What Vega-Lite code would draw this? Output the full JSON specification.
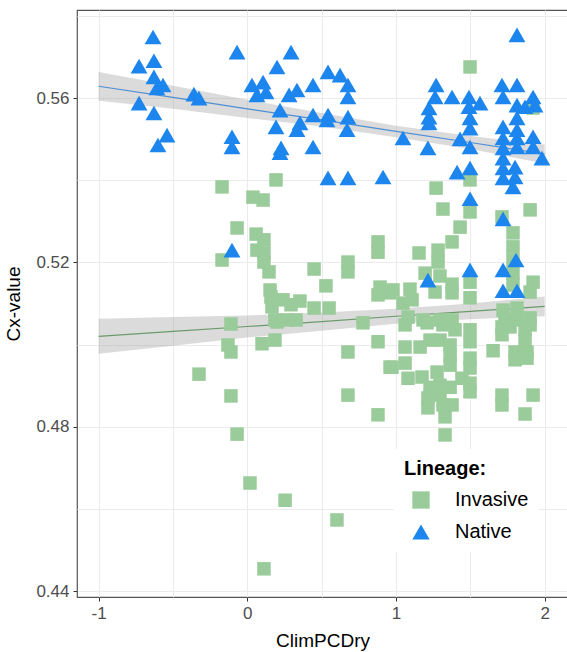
{
  "$schema": "https://vega.github.io/schema/vega-lite/v6.json",
  "autosize": "none",
  "padding": {"left": 77, "top": 10, "right": 0, "bottom": 55},
  "width": 491,
  "height": 587,
  "config": {
    "font": "Liberation Sans",
    "view": {"stroke": "#555555", "strokeWidth": 1.2}
  },
  "datasets": {
    "pts": [
      {"x": -0.170, "y": 0.5384, "Lineage": "Invasive"},
      {"x": 0.193, "y": 0.5401, "Lineage": "Invasive"},
      {"x": 0.038, "y": 0.5359, "Lineage": "Invasive"},
      {"x": 0.106, "y": 0.5352, "Lineage": "Invasive"},
      {"x": -0.069, "y": 0.5284, "Lineage": "Invasive"},
      {"x": 0.059, "y": 0.5269, "Lineage": "Invasive"},
      {"x": 0.112, "y": 0.5255, "Lineage": "Invasive"},
      {"x": 0.065, "y": 0.5230, "Lineage": "Invasive"},
      {"x": 0.112, "y": 0.5223, "Lineage": "Invasive"},
      {"x": -0.170, "y": 0.5206, "Lineage": "Invasive"},
      {"x": 0.112, "y": 0.5201, "Lineage": "Invasive"},
      {"x": 0.146, "y": 0.5177, "Lineage": "Invasive"},
      {"x": 0.153, "y": 0.5133, "Lineage": "Invasive"},
      {"x": 0.159, "y": 0.5116, "Lineage": "Invasive"},
      {"x": 0.166, "y": 0.5092, "Lineage": "Invasive"},
      {"x": 0.240, "y": 0.5109, "Lineage": "Invasive"},
      {"x": 0.186, "y": 0.5060, "Lineage": "Invasive"},
      {"x": 0.267, "y": 0.5060, "Lineage": "Invasive"},
      {"x": 0.328, "y": 0.5060, "Lineage": "Invasive"},
      {"x": 0.354, "y": 0.5106, "Lineage": "Invasive"},
      {"x": 0.449, "y": 0.5184, "Lineage": "Invasive"},
      {"x": 0.449, "y": 0.5089, "Lineage": "Invasive"},
      {"x": 0.550, "y": 0.5089, "Lineage": "Invasive"},
      {"x": 0.529, "y": 0.5143, "Lineage": "Invasive"},
      {"x": 0.677, "y": 0.5201, "Lineage": "Invasive"},
      {"x": 0.677, "y": 0.5177, "Lineage": "Invasive"},
      {"x": 0.879, "y": 0.5250, "Lineage": "Invasive"},
      {"x": 0.879, "y": 0.5225, "Lineage": "Invasive"},
      {"x": 0.893, "y": 0.5140, "Lineage": "Invasive"},
      {"x": 0.960, "y": 0.5126, "Lineage": "Invasive"},
      {"x": 0.879, "y": 0.5121, "Lineage": "Invasive"},
      {"x": 0.778, "y": 0.5053, "Lineage": "Invasive"},
      {"x": -0.110, "y": 0.5050, "Lineage": "Invasive"},
      {"x": -0.130, "y": 0.4999, "Lineage": "Invasive"},
      {"x": -0.110, "y": 0.4982, "Lineage": "Invasive"},
      {"x": 0.099, "y": 0.5002, "Lineage": "Invasive"},
      {"x": 0.186, "y": 0.5011, "Lineage": "Invasive"},
      {"x": 0.200, "y": 0.5055, "Lineage": "Invasive"},
      {"x": -0.325, "y": 0.4928, "Lineage": "Invasive"},
      {"x": -0.110, "y": 0.4875, "Lineage": "Invasive"},
      {"x": -0.069, "y": 0.4782, "Lineage": "Invasive"},
      {"x": 0.018, "y": 0.4663, "Lineage": "Invasive"},
      {"x": 0.254, "y": 0.4621, "Lineage": "Invasive"},
      {"x": 0.112, "y": 0.4454, "Lineage": "Invasive"},
      {"x": 0.603, "y": 0.4573, "Lineage": "Invasive"},
      {"x": 0.677, "y": 0.4982, "Lineage": "Invasive"},
      {"x": 0.879, "y": 0.5007, "Lineage": "Invasive"},
      {"x": 0.960, "y": 0.4945, "Lineage": "Invasive"},
      {"x": 0.677, "y": 0.4877, "Lineage": "Invasive"},
      {"x": 0.879, "y": 0.4829, "Lineage": "Invasive"},
      {"x": 0.294, "y": 0.5097, "Lineage": "Invasive"},
      {"x": 1.498, "y": 0.5676, "Lineage": "Invasive"},
      {"x": 1.922, "y": 0.5576, "Lineage": "Invasive"},
      {"x": 1.270, "y": 0.5381, "Lineage": "Invasive"},
      {"x": 1.498, "y": 0.5401, "Lineage": "Invasive"},
      {"x": 1.316, "y": 0.5330, "Lineage": "Invasive"},
      {"x": 1.498, "y": 0.5323, "Lineage": "Invasive"},
      {"x": 1.431, "y": 0.5286, "Lineage": "Invasive"},
      {"x": 1.377, "y": 0.5250, "Lineage": "Invasive"},
      {"x": 1.283, "y": 0.5230, "Lineage": "Invasive"},
      {"x": 1.155, "y": 0.5223, "Lineage": "Invasive"},
      {"x": 1.283, "y": 0.5201, "Lineage": "Invasive"},
      {"x": 1.196, "y": 0.5174, "Lineage": "Invasive"},
      {"x": 1.296, "y": 0.5167, "Lineage": "Invasive"},
      {"x": 1.377, "y": 0.5147, "Lineage": "Invasive"},
      {"x": 1.263, "y": 0.5128, "Lineage": "Invasive"},
      {"x": 1.377, "y": 0.5126, "Lineage": "Invasive"},
      {"x": 1.094, "y": 0.5135, "Lineage": "Invasive"},
      {"x": 1.498, "y": 0.5152, "Lineage": "Invasive"},
      {"x": 1.498, "y": 0.5114, "Lineage": "Invasive"},
      {"x": 1.902, "y": 0.5328, "Lineage": "Invasive"},
      {"x": 1.713, "y": 0.5311, "Lineage": "Invasive"},
      {"x": 1.787, "y": 0.5272, "Lineage": "Invasive"},
      {"x": 1.787, "y": 0.5238, "Lineage": "Invasive"},
      {"x": 1.787, "y": 0.5206, "Lineage": "Invasive"},
      {"x": 1.787, "y": 0.5174, "Lineage": "Invasive"},
      {"x": 1.787, "y": 0.5145, "Lineage": "Invasive"},
      {"x": 1.922, "y": 0.5152, "Lineage": "Invasive"},
      {"x": 1.902, "y": 0.5128, "Lineage": "Invasive"},
      {"x": 0.980, "y": 0.5133, "Lineage": "Invasive"},
      {"x": 1.047, "y": 0.5101, "Lineage": "Invasive"},
      {"x": 1.108, "y": 0.5109, "Lineage": "Invasive"},
      {"x": 1.081, "y": 0.5067, "Lineage": "Invasive"},
      {"x": 1.182, "y": 0.5060, "Lineage": "Invasive"},
      {"x": 1.296, "y": 0.5060, "Lineage": "Invasive"},
      {"x": 1.377, "y": 0.5060, "Lineage": "Invasive"},
      {"x": 1.498, "y": 0.5036, "Lineage": "Invasive"},
      {"x": 1.720, "y": 0.5084, "Lineage": "Invasive"},
      {"x": 1.814, "y": 0.5089, "Lineage": "Invasive"},
      {"x": 1.733, "y": 0.5060, "Lineage": "Invasive"},
      {"x": 1.814, "y": 0.5060, "Lineage": "Invasive"},
      {"x": 1.902, "y": 0.5065, "Lineage": "Invasive"},
      {"x": 1.061, "y": 0.5048, "Lineage": "Invasive"},
      {"x": 1.209, "y": 0.5053, "Lineage": "Invasive"},
      {"x": 1.316, "y": 0.5048, "Lineage": "Invasive"},
      {"x": 1.397, "y": 0.5036, "Lineage": "Invasive"},
      {"x": 1.061, "y": 0.4994, "Lineage": "Invasive"},
      {"x": 1.162, "y": 0.4994, "Lineage": "Invasive"},
      {"x": 1.229, "y": 0.5011, "Lineage": "Invasive"},
      {"x": 1.296, "y": 0.5011, "Lineage": "Invasive"},
      {"x": 1.498, "y": 0.5007, "Lineage": "Invasive"},
      {"x": 1.364, "y": 0.4999, "Lineage": "Invasive"},
      {"x": 1.364, "y": 0.4975, "Lineage": "Invasive"},
      {"x": 1.364, "y": 0.4950, "Lineage": "Invasive"},
      {"x": 1.498, "y": 0.4967, "Lineage": "Invasive"},
      {"x": 1.498, "y": 0.4943, "Lineage": "Invasive"},
      {"x": 0.973, "y": 0.4945, "Lineage": "Invasive"},
      {"x": 1.061, "y": 0.4955, "Lineage": "Invasive"},
      {"x": 1.081, "y": 0.4918, "Lineage": "Invasive"},
      {"x": 1.175, "y": 0.4921, "Lineage": "Invasive"},
      {"x": 1.276, "y": 0.4933, "Lineage": "Invasive"},
      {"x": 1.229, "y": 0.4896, "Lineage": "Invasive"},
      {"x": 1.296, "y": 0.4901, "Lineage": "Invasive"},
      {"x": 1.364, "y": 0.4896, "Lineage": "Invasive"},
      {"x": 1.444, "y": 0.4918, "Lineage": "Invasive"},
      {"x": 1.498, "y": 0.4906, "Lineage": "Invasive"},
      {"x": 1.498, "y": 0.4885, "Lineage": "Invasive"},
      {"x": 1.215, "y": 0.4870, "Lineage": "Invasive"},
      {"x": 1.215, "y": 0.4846, "Lineage": "Invasive"},
      {"x": 1.296, "y": 0.4877, "Lineage": "Invasive"},
      {"x": 1.316, "y": 0.4853, "Lineage": "Invasive"},
      {"x": 1.377, "y": 0.4853, "Lineage": "Invasive"},
      {"x": 1.330, "y": 0.4824, "Lineage": "Invasive"},
      {"x": 1.330, "y": 0.4780, "Lineage": "Invasive"},
      {"x": 1.713, "y": 0.5043, "Lineage": "Invasive"},
      {"x": 1.767, "y": 0.5043, "Lineage": "Invasive"},
      {"x": 1.902, "y": 0.5048, "Lineage": "Invasive"},
      {"x": 1.653, "y": 0.4985, "Lineage": "Invasive"},
      {"x": 1.801, "y": 0.4982, "Lineage": "Invasive"},
      {"x": 1.881, "y": 0.4982, "Lineage": "Invasive"},
      {"x": 1.801, "y": 0.4963, "Lineage": "Invasive"},
      {"x": 1.881, "y": 0.4967, "Lineage": "Invasive"},
      {"x": 1.713, "y": 0.4877, "Lineage": "Invasive"},
      {"x": 1.713, "y": 0.4853, "Lineage": "Invasive"},
      {"x": 1.922, "y": 0.4877, "Lineage": "Invasive"},
      {"x": 1.868, "y": 0.4831, "Lineage": "Invasive"},
      {"x": 1.868, "y": 0.5036, "Lineage": "Invasive"},
      {"x": 1.868, "y": 0.5011, "Lineage": "Invasive"},
      {"x": 1.713, "y": 0.5024, "Lineage": "Invasive"},
      {"x": -0.634, "y": 0.5749, "Lineage": "Native"},
      {"x": -0.728, "y": 0.5678, "Lineage": "Native"},
      {"x": -0.628, "y": 0.5691, "Lineage": "Native"},
      {"x": -0.628, "y": 0.5652, "Lineage": "Native"},
      {"x": -0.567, "y": 0.5632, "Lineage": "Native"},
      {"x": -0.608, "y": 0.5625, "Lineage": "Native"},
      {"x": -0.728, "y": 0.5588, "Lineage": "Native"},
      {"x": -0.628, "y": 0.5564, "Lineage": "Native"},
      {"x": -0.359, "y": 0.5610, "Lineage": "Native"},
      {"x": -0.325, "y": 0.5600, "Lineage": "Native"},
      {"x": -0.540, "y": 0.5510, "Lineage": "Native"},
      {"x": -0.601, "y": 0.5486, "Lineage": "Native"},
      {"x": -0.069, "y": 0.5712, "Lineage": "Native"},
      {"x": -0.103, "y": 0.5506, "Lineage": "Native"},
      {"x": -0.103, "y": 0.5481, "Lineage": "Native"},
      {"x": -0.103, "y": 0.5230, "Lineage": "Native"},
      {"x": 0.031, "y": 0.5632, "Lineage": "Native"},
      {"x": 0.106, "y": 0.5639, "Lineage": "Native"},
      {"x": 0.065, "y": 0.5608, "Lineage": "Native"},
      {"x": 0.126, "y": 0.5615, "Lineage": "Native"},
      {"x": 0.200, "y": 0.5676, "Lineage": "Native"},
      {"x": 0.294, "y": 0.5712, "Lineage": "Native"},
      {"x": 0.281, "y": 0.5608, "Lineage": "Native"},
      {"x": 0.334, "y": 0.5620, "Lineage": "Native"},
      {"x": 0.442, "y": 0.5632, "Lineage": "Native"},
      {"x": 0.543, "y": 0.5664, "Lineage": "Native"},
      {"x": 0.624, "y": 0.5656, "Lineage": "Native"},
      {"x": 0.677, "y": 0.5632, "Lineage": "Native"},
      {"x": 0.677, "y": 0.5603, "Lineage": "Native"},
      {"x": 0.220, "y": 0.5571, "Lineage": "Native"},
      {"x": 0.193, "y": 0.5530, "Lineage": "Native"},
      {"x": 0.354, "y": 0.5540, "Lineage": "Native"},
      {"x": 0.334, "y": 0.5523, "Lineage": "Native"},
      {"x": 0.442, "y": 0.5559, "Lineage": "Native"},
      {"x": 0.543, "y": 0.5559, "Lineage": "Native"},
      {"x": 0.536, "y": 0.5547, "Lineage": "Native"},
      {"x": 0.677, "y": 0.5554, "Lineage": "Native"},
      {"x": 0.671, "y": 0.5523, "Lineage": "Native"},
      {"x": 0.227, "y": 0.5479, "Lineage": "Native"},
      {"x": 0.220, "y": 0.5467, "Lineage": "Native"},
      {"x": 0.442, "y": 0.5481, "Lineage": "Native"},
      {"x": 0.543, "y": 0.5406, "Lineage": "Native"},
      {"x": 0.677, "y": 0.5406, "Lineage": "Native"},
      {"x": 0.913, "y": 0.5408, "Lineage": "Native"},
      {"x": 1.047, "y": 0.5503, "Lineage": "Native"},
      {"x": 1.215, "y": 0.5479, "Lineage": "Native"},
      {"x": 1.814, "y": 0.5754, "Lineage": "Native"},
      {"x": 1.270, "y": 0.5632, "Lineage": "Native"},
      {"x": 1.377, "y": 0.5603, "Lineage": "Native"},
      {"x": 1.491, "y": 0.5603, "Lineage": "Native"},
      {"x": 1.565, "y": 0.5588, "Lineage": "Native"},
      {"x": 1.263, "y": 0.5603, "Lineage": "Native"},
      {"x": 1.222, "y": 0.5576, "Lineage": "Native"},
      {"x": 1.222, "y": 0.5554, "Lineage": "Native"},
      {"x": 1.222, "y": 0.5540, "Lineage": "Native"},
      {"x": 1.491, "y": 0.5579, "Lineage": "Native"},
      {"x": 1.498, "y": 0.5552, "Lineage": "Native"},
      {"x": 1.498, "y": 0.5527, "Lineage": "Native"},
      {"x": 1.431, "y": 0.5501, "Lineage": "Native"},
      {"x": 1.498, "y": 0.5481, "Lineage": "Native"},
      {"x": 1.411, "y": 0.5420, "Lineage": "Native"},
      {"x": 1.498, "y": 0.5430, "Lineage": "Native"},
      {"x": 1.713, "y": 0.5632, "Lineage": "Native"},
      {"x": 1.814, "y": 0.5632, "Lineage": "Native"},
      {"x": 1.720, "y": 0.5603, "Lineage": "Native"},
      {"x": 1.922, "y": 0.5603, "Lineage": "Native"},
      {"x": 1.814, "y": 0.5583, "Lineage": "Native"},
      {"x": 1.868, "y": 0.5579, "Lineage": "Native"},
      {"x": 1.935, "y": 0.5583, "Lineage": "Native"},
      {"x": 1.720, "y": 0.5530, "Lineage": "Native"},
      {"x": 1.814, "y": 0.5552, "Lineage": "Native"},
      {"x": 1.814, "y": 0.5523, "Lineage": "Native"},
      {"x": 1.720, "y": 0.5503, "Lineage": "Native"},
      {"x": 1.814, "y": 0.5503, "Lineage": "Native"},
      {"x": 1.922, "y": 0.5506, "Lineage": "Native"},
      {"x": 1.720, "y": 0.5479, "Lineage": "Native"},
      {"x": 1.814, "y": 0.5481, "Lineage": "Native"},
      {"x": 1.922, "y": 0.5481, "Lineage": "Native"},
      {"x": 1.982, "y": 0.5454, "Lineage": "Native"},
      {"x": 1.720, "y": 0.5454, "Lineage": "Native"},
      {"x": 1.720, "y": 0.5430, "Lineage": "Native"},
      {"x": 1.801, "y": 0.5432, "Lineage": "Native"},
      {"x": 1.720, "y": 0.5406, "Lineage": "Native"},
      {"x": 1.801, "y": 0.5408, "Lineage": "Native"},
      {"x": 1.787, "y": 0.5384, "Lineage": "Native"},
      {"x": 1.498, "y": 0.5355, "Lineage": "Native"},
      {"x": 1.720, "y": 0.5306, "Lineage": "Native"},
      {"x": 1.807, "y": 0.5206, "Lineage": "Native"},
      {"x": 1.720, "y": 0.5182, "Lineage": "Native"},
      {"x": 1.498, "y": 0.5182, "Lineage": "Native"},
      {"x": 1.215, "y": 0.5157, "Lineage": "Native"},
      {"x": 1.720, "y": 0.5131, "Lineage": "Native"},
      {"x": 1.814, "y": 0.5131, "Lineage": "Native"}
    ],
    "fit": [
      {"x": -1, "fit": 0.5020, "lo": 0.4978, "hi": 0.5063, "Lineage": "Invasive"},
      {"x": -0.5, "fit": 0.5032, "lo": 0.4997, "hi": 0.5067, "Lineage": "Invasive"},
      {"x": 0, "fit": 0.5044, "lo": 0.5017, "hi": 0.5071, "Lineage": "Invasive"},
      {"x": 0.5, "fit": 0.5056, "lo": 0.5034, "hi": 0.5078, "Lineage": "Invasive"},
      {"x": 1, "fit": 0.5069, "lo": 0.5051, "hi": 0.5087, "Lineage": "Invasive"},
      {"x": 1.5, "fit": 0.5081, "lo": 0.5062, "hi": 0.5100, "Lineage": "Invasive"},
      {"x": 2, "fit": 0.5093, "lo": 0.5069, "hi": 0.5117, "Lineage": "Invasive"},
      {"x": -1, "fit": 0.5629, "lo": 0.5594, "hi": 0.5664, "Lineage": "Native"},
      {"x": -0.5, "fit": 0.5602, "lo": 0.5574, "hi": 0.5630, "Lineage": "Native"},
      {"x": 0, "fit": 0.5574, "lo": 0.5552, "hi": 0.5596, "Lineage": "Native"},
      {"x": 0.5, "fit": 0.5547, "lo": 0.5531, "hi": 0.5564, "Lineage": "Native"},
      {"x": 1, "fit": 0.5519, "lo": 0.5505, "hi": 0.5533, "Lineage": "Native"},
      {"x": 1.5, "fit": 0.5492, "lo": 0.5476, "hi": 0.5508, "Lineage": "Native"},
      {"x": 2, "fit": 0.5464, "lo": 0.5441, "hi": 0.5487, "Lineage": "Native"}
    ]
  },
  "layer": [
    {
      "data": {"name": "fit"},
      "mark": {"type": "area", "color": "#999999", "opacity": 0.35},
      "encoding": {
        "x": {"field": "x", "type": "quantitative", "scale": {"domain": [-1.1455, 2.157], "nice": false, "zero": false},
          "axis": {
            "values": [-1, -0.5, 0, 0.5, 1, 1.5, 2],
            "title": "ClimPCDry",
            "domain": false,
            "ticks": true,
            "tickSize": 4,
            "tickColor": "#333333",
            "tickOpacity": {"condition": {"test": "datum.value % 1 != 0", "value": 0}, "value": 1},
            "labelExpr": "datum.value % 1 == 0 ? '' + datum.value : ''",
            "labelFlush": false,
            "labelOverlap": false,
            "labelFontSize": 17,
            "labelColor": "#4d4d4d",
            "labelPadding": 4,
            "gridColor": "#ebebeb",
            "titleFontSize": 19,
            "titleFontWeight": "normal",
            "titleColor": "#000000",
            "titlePadding": 10
          }},
        "y": {"field": "lo", "type": "quantitative", "scale": {"domain": [0.43854, 0.58147], "nice": false, "zero": false},
          "axis": {
            "values": [0.44, 0.46, 0.48, 0.50, 0.52, 0.54, 0.56, 0.58],
            "title": "Cx-value",
            "domain": false,
            "ticks": true,
            "tickSize": 4,
            "tickColor": "#333333",
            "tickOpacity": {"condition": {"test": "round(datum.value * 100) % 4 != 0", "value": 0}, "value": 1},
            "labelExpr": "round(datum.value * 100) % 4 == 0 ? format(datum.value, '.2f') : ''",
            "labelFlush": false,
            "labelOverlap": false,
            "labelFontSize": 17,
            "labelColor": "#4d4d4d",
            "labelPadding": 4,
            "gridColor": "#ebebeb",
            "titleFontSize": 19,
            "titleFontWeight": "normal",
            "titleColor": "#000000",
            "titlePadding": 12
          }},
        "y2": {"field": "hi"},
        "detail": {"field": "Lineage"}
      }
    },
    {
      "data": {"name": "fit"},
      "transform": [{"filter": "datum.Lineage == 'Invasive'"}],
      "mark": {"type": "line", "strokeWidth": 1.2, "color": "#6B9A6B"},
      "encoding": {
        "x": {"field": "x", "type": "quantitative"},
        "y": {"field": "fit", "type": "quantitative"}
      }
    },
    {
      "data": {"name": "fit"},
      "transform": [{"filter": "datum.Lineage == 'Native'"}],
      "mark": {"type": "line", "strokeWidth": 1.2, "color": "#4F8FD6"},
      "encoding": {
        "x": {"field": "x", "type": "quantitative"},
        "y": {"field": "fit", "type": "quantitative"}
      }
    },
    {
      "data": {"name": "pts"},
      "transform": [{"filter": "datum.Lineage == 'Invasive'"}],
      "mark": {"type": "point", "filled": true, "opacity": 1, "strokeWidth": 0, "size": 182},
      "encoding": {
        "x": {"field": "x", "type": "quantitative"},
        "y": {"field": "y", "type": "quantitative"},
        "shape": {"field": "Lineage", "type": "nominal", "scale": {"domain": ["Invasive", "Native"], "range": ["square", "triangle-up"]},
          "legend": {
            "orient": "none", "legendX": 317, "legendY": 439,
            "title": "Lineage:", "titleFontSize": 20, "titleFontWeight": "bold", "titleColor": "#000000", "titlePadding": 11,
            "labelFontSize": 20, "labelColor": "#000000", "labelOffset": 24,
            "symbolSize": 300, "symbolOffset": 7, "rowPadding": 12,
            "padding": 10, "fillColor": "#ffffff",
            "encode": {"symbols": {"update": {
              "fill": {"condition": {"test": "datum.value === 'Native'", "value": "#00A8E8"}, "value": "#9DCB86"},
              "stroke": {"condition": {"test": "datum.value === 'Native'", "value": "#00A8E8"}, "value": "#6E9F52"},
              "strokeWidth": {"value": 1.5}
            }}}
          }},
        "color": {"field": "Lineage", "type": "nominal", "scale": {"domain": ["Invasive", "Native"], "range": ["#9ACB9A", "#1C86EE"]},
          "legend": {
            "orient": "none", "legendX": 317, "legendY": 439,
            "title": "Lineage:", "titleFontSize": 20, "titleFontWeight": "bold", "titleColor": "#000000", "titlePadding": 11,
            "labelFontSize": 20, "labelColor": "#000000", "labelOffset": 24,
            "symbolSize": 300, "symbolOffset": 7, "rowPadding": 12,
            "padding": 10, "fillColor": "#ffffff",
            "encode": {"symbols": {"update": {
              "fill": {"condition": {"test": "datum.value === 'Native'", "value": "#00A8E8"}, "value": "#9DCB86"},
              "stroke": {"condition": {"test": "datum.value === 'Native'", "value": "#00A8E8"}, "value": "#6E9F52"},
              "strokeWidth": {"value": 1.5}
            }}}
          }}
      }
    },
    {
      "data": {"name": "pts"},
      "transform": [{"filter": "datum.Lineage == 'Native'"}],
      "mark": {"type": "point", "filled": true, "opacity": 1, "strokeWidth": 0, "size": 285},
      "encoding": {
        "x": {"field": "x", "type": "quantitative"},
        "y": {"field": "y", "type": "quantitative"},
        "shape": {"field": "Lineage", "type": "nominal", "scale": {"domain": ["Invasive", "Native"], "range": ["square", "triangle-up"]}},
        "color": {"field": "Lineage", "type": "nominal", "scale": {"domain": ["Invasive", "Native"], "range": ["#9ACB9A", "#1C86EE"]}}
      }
    }
  ]
}
